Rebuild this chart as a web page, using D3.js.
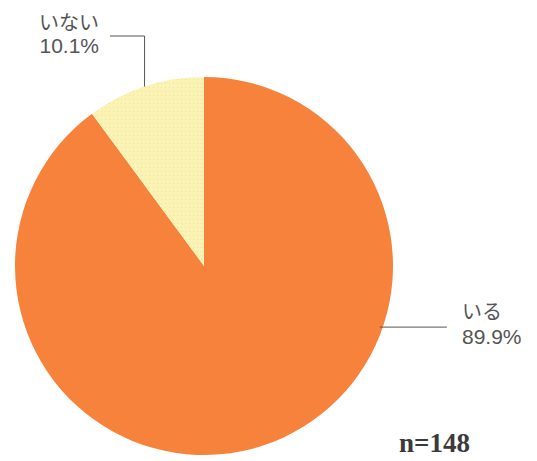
<!DOCTYPE html>
<html>
<head>
<meta charset="utf-8">
<script src="https://cdn.jsdelivr.net/npm/d3@7"></script>
<style>
  body { margin: 0; background: #fff; }
  text { fill: #555; }
  .jp { font-family: "Noto Sans CJK JP", "Noto Sans", sans-serif; }
  .num { font-family: "Liberation Sans", Arial, sans-serif; }
</style>
</head>
<body>
<script>
// data
var labels = ["いる", "いない"];
var values = [89.9, 10.1];
var colors = ["#f7823c", "#faf3b4"];
var sampleSize = 148;

var width = 537, height = 461;
var cx = 204, cy = 266, radius = 189;

var svg = d3.select("body").append("svg")
    .attr("width", width)
    .attr("height", height);

// dotted texture for the small slice
var defs = svg.append("defs");
var pat = defs.append("pattern")
    .attr("id", "dots")
    .attr("patternUnits", "userSpaceOnUse")
    .attr("width", 4)
    .attr("height", 4);
pat.append("rect").attr("width", 4).attr("height", 4).attr("fill", colors[1]);
pat.append("rect").attr("x", 1).attr("y", 1).attr("width", 1).attr("height", 1).attr("fill", "#ece2a4");

var pie = d3.pie().sort(null).value(function (d) { return d; });
var arc = d3.arc().innerRadius(0).outerRadius(radius);

var g = svg.append("g")
    .attr("transform", "translate(" + cx + "," + cy + ")");

var arcs = pie(values);

g.selectAll("path")
    .data(arcs)
    .enter().append("path")
    .attr("d", arc)
    .attr("fill", function (d, i) { return i == 1 ? "url(#dots)" : colors[i]; });

// leader lines
var angBig = 1.9; // point on right edge of the big slice
var pBig = [radius * Math.sin(angBig) - 3, -radius * Math.cos(angBig)];
g.append("line")
    .attr("x1", pBig[0]).attr("y1", pBig[1])
    .attr("x2", pBig[0] + 67).attr("y2", pBig[1])
    .attr("stroke", "#555").attr("stroke-width", 1);

var angSmall = -0.32;
var pSmall = [radius * Math.sin(angSmall), -radius * Math.cos(angSmall)];
g.append("path")
    .attr("d", "M" + pSmall[0] + "," + pSmall[1] + " V" + (36 - cy) + " H" + (110 - cx))
    .attr("fill", "none")
    .attr("stroke", "#555").attr("stroke-width", 1);

// labels
svg.append("text").attr("class", "jp").attr("font-size", 20)
    .attr("x", 462).attr("y", 319).text(labels[0]);
svg.append("text").attr("class", "num").attr("font-size", 21)
    .attr("x", 462).attr("y", 344).text(d3.format(".1f")(values[0]) + "%");

svg.append("text").attr("class", "jp").attr("font-size", 20).attr("text-anchor", "end")
    .attr("x", 99).attr("y", 30).text(labels[1]);
svg.append("text").attr("class", "num").attr("font-size", 21).attr("text-anchor", "end")
    .attr("x", 99).attr("y", 53).text(d3.format(".1f")(values[1]) + "%");

svg.append("text")
    .attr("x", 399).attr("y", 452)
    .style("font-family", "'Liberation Serif', serif")
    .attr("font-size", 27)
    .attr("font-weight", "bold")
    .style("fill", "#3a3a3a")
    .text("n=" + sampleSize);
</script>
</body>
</html>
